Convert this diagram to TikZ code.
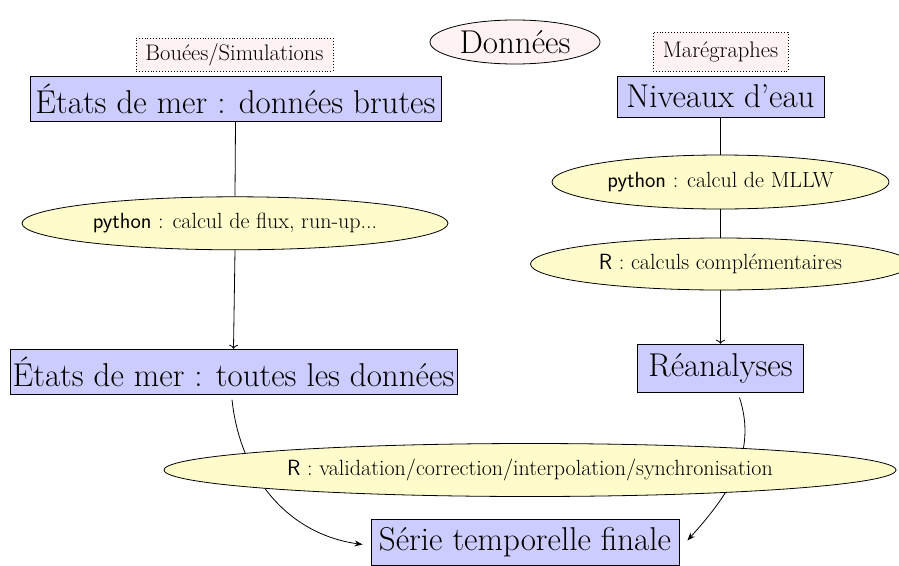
\documentclass[tikz,border=0pt]{standalone}
\usetikzlibrary{shapes.geometric,arrows.meta,backgrounds,calc}
\tikzset{
  boxstyle/.style={draw=black,fill=blue!20,rectangle,inner sep=0pt,line width=0.8pt,
    font=\fontsize{33}{38}\selectfont},
  procstyle/.style={draw=black,fill=yellow!20,ellipse,inner sep=0pt,line width=0.8pt,
    font=\fontsize{22}{26}\selectfont},
  srcstyle/.style={draw=black,fill=red!5,rectangle,dotted,inner sep=0pt,line width=0.9pt,
    font=\fontsize{22.5}{26}\selectfont},
  titlestyle/.style={draw=black,fill=red!5,ellipse,inner sep=0pt,line width=0.8pt,
    font=\fontsize{33}{38}\selectfont},
  plainline/.style={line width=0.8pt},
  arrline/.style={line width=0.8pt,-{To[length=4pt,width=9pt]}},
  curveline/.style={line width=0.8pt,-{Stealth[length=8pt,width=6pt]}}
}
\begin{document}
\begin{tikzpicture}[x=1pt,y=-1pt]
\useasboundingbox (0,0) rectangle (899,565);
\node[titlestyle,minimum width=170pt,minimum height=44pt] (donnees) at (515,42) {Données};
\node[srcstyle,minimum width=197pt,minimum height=33pt] (bouees) at (234.5,54.5) {Bouées/Simulations};
\node[srcstyle,minimum width=135pt,minimum height=39pt] (mareg) at (720.5,51.5) {Marégraphes};
\node[boxstyle,minimum width=411pt,minimum height=45pt] (brutes) at (235.5,98.5) {États de mer : données brutes};
\node[boxstyle,minimum width=207pt,minimum height=41pt] (niveaux) at (720.5,96.5) {Niveaux d’eau};
\node[procstyle,minimum width=426pt,minimum height=53pt] (flux) at (235,223.3) {\textsf{python} : calcul de flux, run-up...};
\node[procstyle,minimum width=337pt,minimum height=54pt] (mllw) at (720.5,182) {\textsf{python} : calcul de MLLW};
\node[procstyle,minimum width=380pt,minimum height=52pt] (compl) at (720.5,264) {\textsf{R} : calculs complémentaires};
\node[boxstyle,minimum width=447pt,minimum height=45pt] (toutes) at (233.5,371.7) {États de mer : toutes les données};
\node[boxstyle,minimum width=166pt,minimum height=48pt] (reana) at (720.5,368.2) {Réanalyses};
\node[boxstyle,minimum width=308pt,minimum height=46pt] (serie) at (525,542.5) {Série temporelle finale};
\begin{scope}[on background layer]
\draw[curveline] ($(toutes.south)+(-1.5,5)$) to[out=-84,in=172] ($(serie.west)+(-8,2)$);
\draw[curveline] ($(reana.south)+(19,5)$) to[out=-72,in=48] ($(serie.east)+(8,-2)$);
\end{scope}
\node[procstyle,minimum width=732pt,minimum height=53pt] (valid) at (530,470) {\textsf{R} : validation/correction/interpolation/synchronisation};
\draw[plainline] (brutes.south) -- (flux.north);
\draw[arrline] (flux.south) -- (toutes.north);
\draw[plainline] (niveaux.south) -- (mllw.north);
\draw[plainline] (mllw.south) -- (compl.north);
\draw[arrline] (compl.south) -- (reana.north);
\end{tikzpicture}
\end{document}
